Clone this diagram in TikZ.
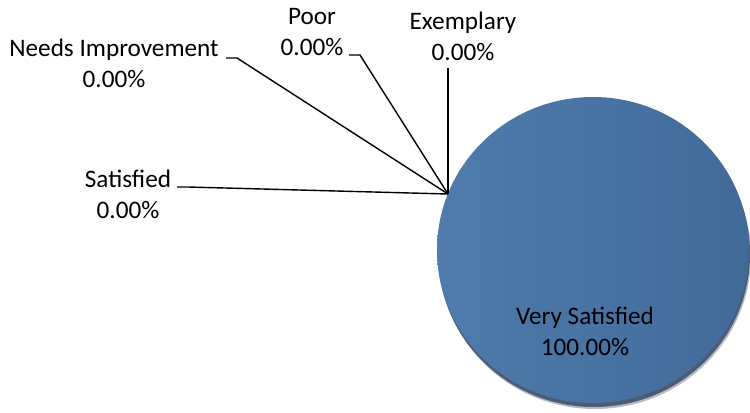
\documentclass[tikz,border=0pt]{standalone}
\usepackage{fontspec}
\setmainfont{Carlito}
\definecolor{pieL}{RGB}{78,124,172}
\definecolor{pieR}{RGB}{66,106,153}
\definecolor{pieShadow}{RGB}{40,60,88}
\begin{document}
\begin{tikzpicture}[x=1bp,y=-1bp,
  lbl/.style={align=center,inner sep=0pt,anchor=base,font=\fontsize{25.3}{31}\selectfont},
  leader/.style={line width=1.4bp,black,line join=miter}]
\useasboundingbox (0,0) rectangle (750,412);
% pie
\fill[pieShadow,opacity=0.35] (595,256) ellipse [x radius=156, y radius=153];
\fill[pieShadow,opacity=0.75] (594,254) ellipse [x radius=156, y radius=153];
\shade[left color=pieL,right color=pieR] (593,250) ellipse [x radius=156, y radius=153];
\node[lbl] (vs) at (585,355) {Very Satisfied\\100.00\%};
% labels
\coordinate (p) at (448,194);
\node[lbl] (ni) at (114,87) {Needs Improvement\\0.00\%};
\node[lbl] (po) at (312,55) {Poor\\0.00\%};
\node[lbl] (ex) at (463,60) {Exemplary\\0.00\%};
\node[lbl] (sa) at (128,218) {Satisfied\\0.00\%};
% leaders
\coordinate (niA) at (226,58);
\coordinate (niB) at (237,58);
\coordinate (poA) at (349,55);
\coordinate (poB) at (360,55);
\coordinate (exA) at (448,68);
\coordinate (saA) at (177,187);
\coordinate (saB) at (188,187);
\draw[leader] (niA) -- (niB) -- (p);
\draw[leader] (poA) -- (poB) -- (p);
\draw[leader] (exA) -- (p);
\draw[leader] (saA) -- (saB) -- (p);
\end{tikzpicture}
\end{document}
